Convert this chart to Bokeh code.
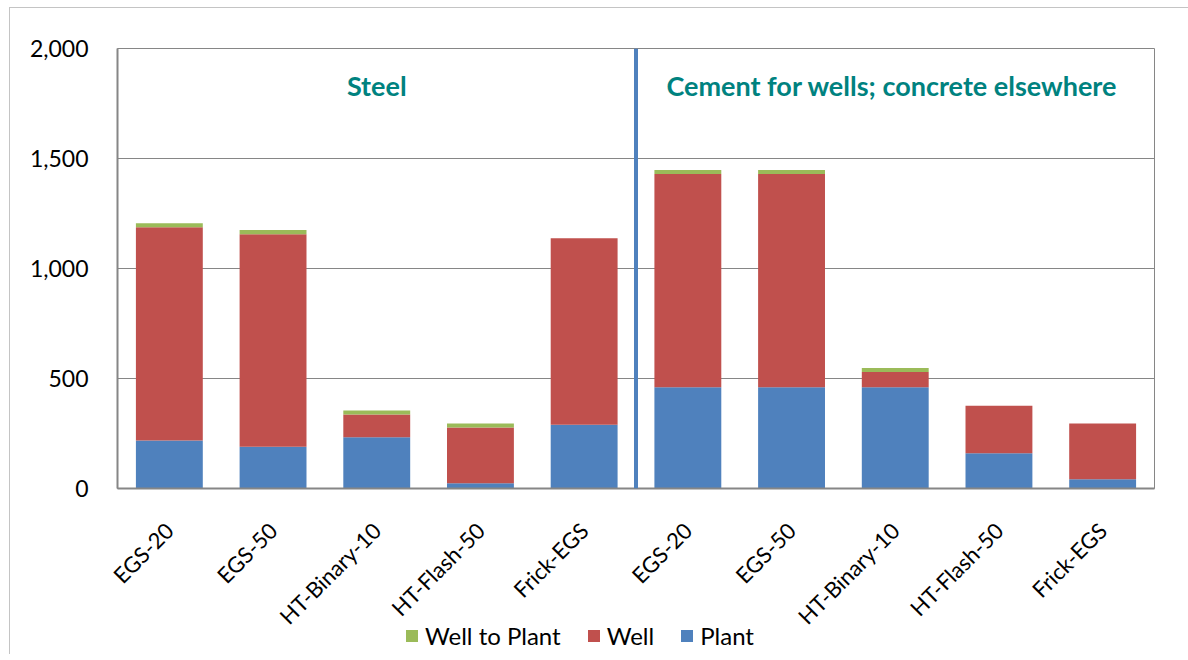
import numpy as np
from bokeh.plotting import figure
from bokeh.layouts import column
from bokeh.models import (ColumnDataSource, Range1d, FixedTicker, NumeralTickFormatter,
                          Legend, LegendItem, Span, Label)
from bokeh.embed import file_html
from bokeh.resources import INLINE

# ---- data ----
categories = ["EGS-20", "EGS-50", "HT-Binary-10", "HT-Flash-50", "Frick-EGS",
              "EGS-20", "EGS-50", "HT-Binary-10", "HT-Flash-50", "Frick-EGS"]
groups = ["Steel"] * 5 + ["Cement  for wells; concrete elsewhere"] * 5
group_names = ["Steel", "Cement  for wells; concrete elsewhere"]
plant = [218, 190, 233, 24, 290, 460, 460, 460, 160, 42]
well = [970, 966, 103, 253, 848, 970, 970, 70, 216, 253]
well_to_plant = [18, 19, 18, 18, 0, 18, 18, 18, 0, 0]
y_ticks = [0, 500, 1000, 1500, 2000]
series_names = ["Plant", "Well", "Well to Plant"]

FONT = "Lato"
COLORS = ["#4F81BD", "#C0504D", "#9BBB59"]
TEAL = "#00827F"
GRAY = "#868686"

x = list(range(1, len(categories) + 1))
src = ColumnDataSource(dict(x=x, plant=plant, well=well, w2p=well_to_plant))

p = figure(width=1178, height=634, output_backend="svg", toolbar_location=None,
           x_range=Range1d(0.5, len(categories) + 0.5), y_range=Range1d(0, 2000),
           min_border_left=107, min_border_right=34, min_border_top=40, min_border_bottom=153)

rs = p.vbar_stack(["plant", "well", "w2p"], x="x", width=0.645, source=src,
                  fill_color=COLORS, line_color=None)

# separator between the two groups
n_first = groups.count(group_names[0])
p.add_layout(Span(location=n_first + 0.5, dimension="height",
                  line_color=COLORS[0], line_width=4))

# group titles
for name in group_names:
    xs = [xi for xi, g in zip(x, groups) if g == name]
    p.add_layout(Label(x=float(np.mean(xs)), y=1830, text=name, text_align="center",
                       text_baseline="middle", text_font=FONT, text_font_style="bold",
                       text_font_size="27px", text_color=TEAL))

# axes
p.xaxis.ticker = FixedTicker(ticks=x)
p.xaxis.major_label_overrides = {xi: c for xi, c in zip(x, categories)}
p.xaxis.major_label_orientation = np.pi / 4
p.yaxis.ticker = FixedTicker(ticks=y_ticks)
p.yaxis.formatter = NumeralTickFormatter(format="0,0")
for ax in (p.xaxis, p.yaxis):
    ax.axis_line_color = GRAY
    ax.axis_line_width = 2
    ax.major_tick_line_color = None
    ax.minor_tick_line_color = None
    ax.major_label_text_font = FONT
    ax.major_label_text_color = "black"
p.yaxis.major_label_text_font_size = "23px"
p.yaxis.major_label_standoff = 23
p.xaxis.major_label_text_font_size = "22px"
p.xaxis.major_label_standoff = 32

p.xgrid.visible = False
p.ygrid.grid_line_color = GRAY
p.ygrid.grid_line_width = 1
p.outline_line_color = GRAY
p.outline_line_width = 1
p.background_fill_color = "white"
p.border_fill_color = "white"

# legend strip (overlaps the bottom of the chart slightly, transparent)
lg = figure(width=1178, height=34, output_backend="svg", toolbar_location=None,
            x_axis_type=None, y_axis_type=None, min_border=0,
            x_range=Range1d(0, 1), y_range=Range1d(0, 1))
lg.outline_line_color = None
lg.background_fill_alpha = 0
lg.border_fill_alpha = 0
lg.grid.visible = False
lg.styles = {"margin-top": "-22px"}
dummies = [lg.vbar(x=[float("nan")], top=[float("nan")], width=0.1,
                   fill_color=c, line_color=None) for c in COLORS]
legend = Legend(items=[LegendItem(label=n, renderers=[r])
                       for n, r in reversed(list(zip(series_names, dummies)))],
                orientation="horizontal", location=(287, 4),
                padding=0, margin=0, spacing=25, label_standoff=6,
                glyph_width=15, glyph_height=15,
                label_text_font=FONT, label_text_font_size="24px",
                label_text_color="black",
                border_line_alpha=0, background_fill_alpha=0)
lg.add_layout(legend)

layout = column(p, lg, spacing=0)
layout.styles = {"margin-left": "9px", "margin-top": "7px",
                 "border-top": "1px solid #c4c4c4", "border-left": "1px solid #c4c4c4"}

open("out.html", "w").write(file_html(layout, INLINE))
